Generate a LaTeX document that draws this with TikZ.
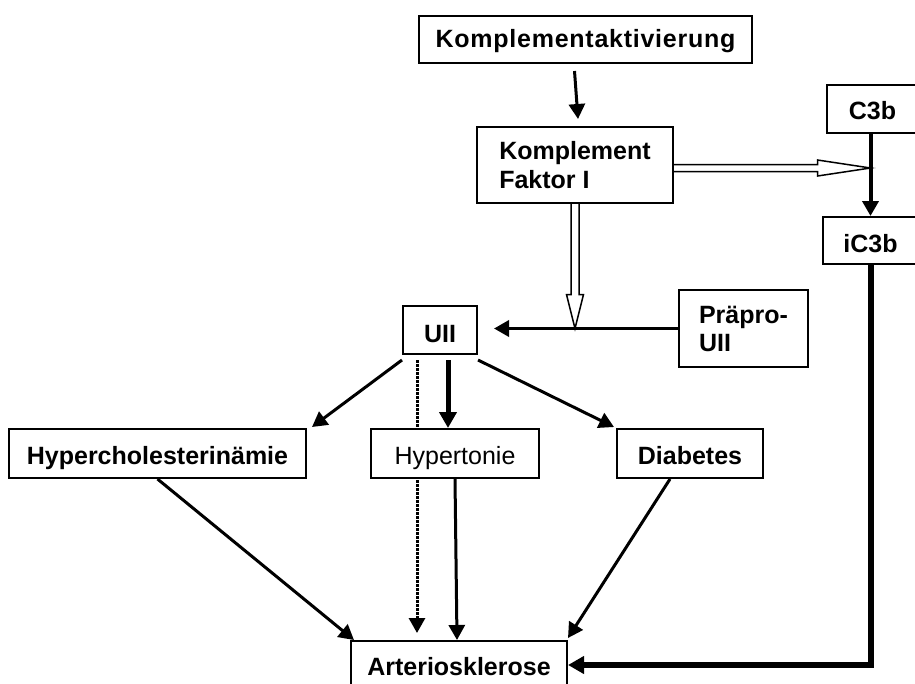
\documentclass[tikz,border=0pt]{standalone}
\usepackage{fontspec}
\setmainfont{Liberation Sans}
\usetikzlibrary{arrows.meta,calc}
\begin{document}
\begin{tikzpicture}[x=1pt,y=-1pt,
  box/.style={draw,line width=2pt,fill=white,inner sep=0pt,
    text height=21pt,text depth=0pt,
    font=\fontsize{25}{30}\selectfont\bfseries},
  lbox/.style={draw,line width=2pt,fill=white,inner sep=0pt,align=left},
  arr/.style={line width=3pt,-{Triangle[length=15pt,width=16pt]}},
  heavyarr/.style={line width=5pt,-{Triangle[length=16pt,width=17pt]}},
  dottedarr/.style={line width=3pt,dash pattern=on 2.5pt off 1.5pt,
    -{Triangle[length=15pt,width=16pt]}},
  hollow/.style={draw,line width=1.5pt,fill=white,line join=miter},
]
\useasboundingbox (0,0) rectangle (915,683);
\clip (0,0) rectangle (915,683);
\fill[white] (0,0) rectangle (915,683);

% boxes
\node[box,text height=15pt,minimum width=333pt,minimum height=47pt,
  font=\fontsize{25}{30}\selectfont\bfseries\addfontfeatures{LetterSpace=3}] (ka) at (585.5,39.5) {Komplementaktivierung};
\node[lbox,font=\fontsize{25}{29}\selectfont\bfseries,minimum width=196pt,minimum height=76pt] (fi) at (575,165) {Komplement\\Faktor I};
\node[box,minimum width=91pt,minimum height=48pt] (c3b) at (872.5,109) {C3b};
\node[box,text height=24pt,minimum width=95pt,minimum height=47pt] (ic3b) at (870.5,240.5) {iC3b};
\node[box,text height=24pt,minimum width=74pt,minimum height=48pt] (uii) at (440,330) {UII};
\node[lbox,font=\fontsize{25}{28}\selectfont\bfseries,minimum width=129pt,minimum height=77pt] (pp) at (743.5,328.5) {Präpro-\\UII};
\node[box,minimum width=297pt,minimum height=49pt] (hc) at (157.5,453.5) {Hypercholesterinämie};
\node[box,minimum width=146pt,minimum height=49pt] (dia) at (690,453.5) {Diabetes};
\node[box,minimum width=216pt,minimum height=48pt] (ar) at (459,665) {Arteriosklerose};

% dotted path from UII runs behind the Hypertonie box
\coordinate (d1) at ($(uii.south)+(-23,5)$);
\coordinate (d2) at (d1 |- ar.north);
\draw[dottedarr] (d1) -- ($(d2)+(0,-7)$);

\node[box,font=\fontsize{25}{30}\selectfont,minimum width=168pt,minimum height=49pt] (ht) at (455,453.5) {Hypertonie};

% activation
\draw[arr] ($(ka.south)+(-11,7)$) -- ($(fi.north)+(3,-7)$);

% Präpro-UII to UII
\coordinate (u1) at (uii.east |- pp.west);
\draw[line width=3.5pt,-{Triangle[length=15pt,width=16pt]}] (pp.west) -- ($(u1)+(16,0)$);

% hollow arrow from factor I to the C3b cleavage
\coordinate (j1) at ($(ic3b.north)+(0,-48)$);
\coordinate (j1s) at (fi.east |- j1);
\draw[hollow] ($(j1s)+(0,-3.5)$) -- ($(j1)+(-53,-3.5)$) -- ($(j1)+(-53,-8)$) -- (j1)
  -- ($(j1)+(-53,8)$) -- ($(j1)+(-53,3.5)$) -- ($(j1s)+(0,3.5)$);

% hollow arrow from factor I to the Präpro-UII cleavage
\coordinate (j2) at (fi.south |- pp.west);
\draw[hollow] ($(fi.south)+(-4,0)$) -- ($(j2)+(-4,-34)$) -- ($(j2)+(-8.5,-34)$) -- (j2)
  -- ($(j2)+(8.5,-34)$) -- ($(j2)+(4,-34)$) -- ($(fi.south)+(4,0)$);

% C3b to iC3b
\draw[line width=4pt,-{Triangle[length=15pt,width=16pt]}] (ic3b.north |- c3b.south) -- (ic3b.north);

% UII effects
\draw[arr] ($(uii.south west)+(0,5)$) -- ($(hc.north east)+(5,-1)$);
\draw[arr] ($(uii.south east)+(0,5)$) -- ($(dia.north west)+(-2,-1)$);
\coordinate (u2) at ($(uii.south)+(8,5)$);
\draw[heavyarr] (u2) -- (u2 |- ht.north);

% risk factors to Arteriosklerose
\draw[arr] (hc.south) -- ($(ar.north west)+(4,0)$);
\draw[arr] (ht.south) -- ($(ar.north)+(-2,0)$);
\draw[arr] ($(dia.south)+(-20,0)$) -- ($(ar.north east)+(0,-2)$);

% iC3b to Arteriosklerose
\draw[line width=6pt,line join=miter,-{Triangle[length=16pt,width=17pt]}] (ic3b.south) |- (ar.east);
\end{tikzpicture}
\end{document}
